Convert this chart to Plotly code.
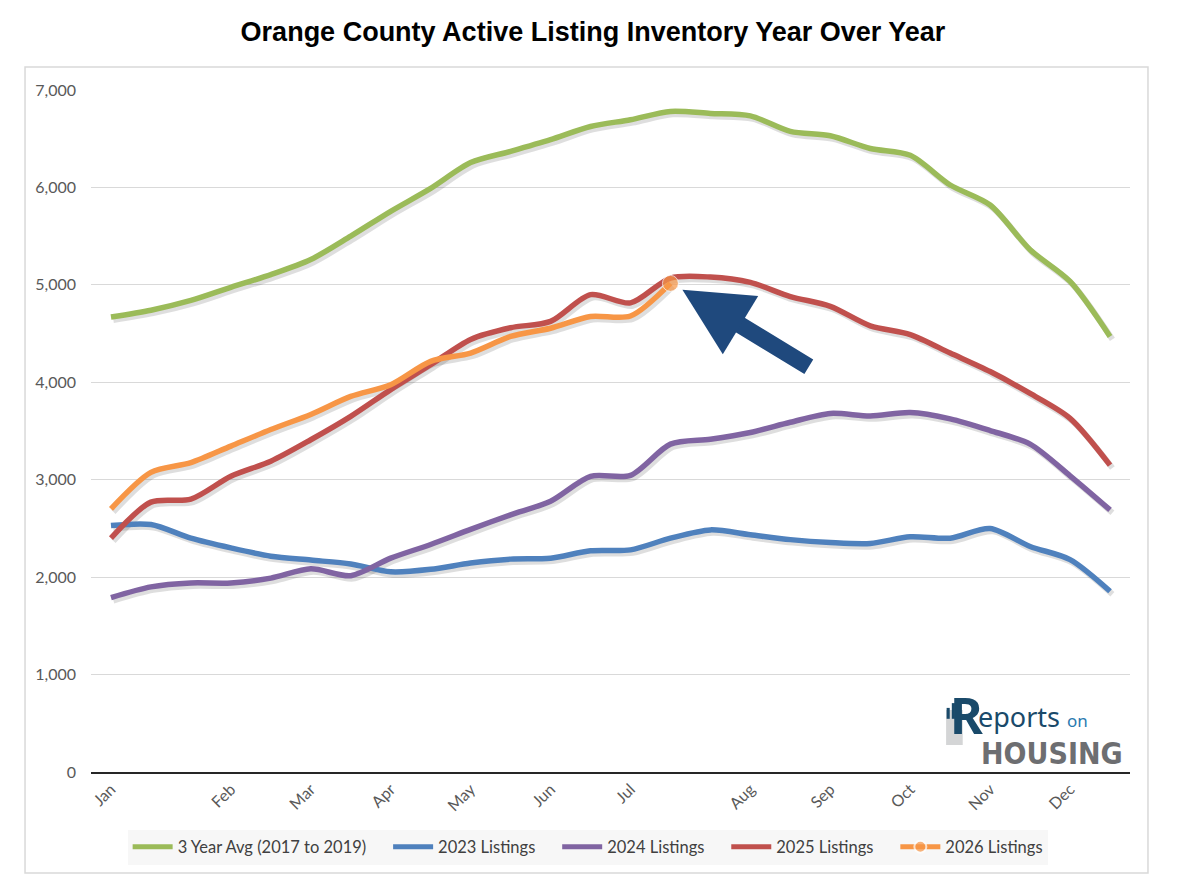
import plotly.graph_objects as go

# semi-monthly points, month names only shown where the month starts
month_names = ["Jan", "Feb", "Mar", "Apr", "May", "Jun", "Jul", "Aug", "Sep", "Oct", "Nov", "Dec"]
month_pos = [0, 3, 5, 7, 9, 11, 13, 16, 18, 20, 22, 24]
n_points = 26

avg_3yr = [4670, 4740, 4840, 4975, 5105, 5260, 5500, 5755, 5990, 6255, 6370, 6490, 6625,
           6695, 6780, 6760, 6735, 6575, 6530, 6400, 6330, 6025, 5820, 5360, 5035, 4470]
listings_2023 = [2530, 2540, 2400, 2300, 2215, 2175, 2135, 2055, 2080, 2145, 2185, 2195, 2270,
                 2280, 2400, 2485, 2435, 2385, 2355, 2345, 2415, 2400, 2500, 2315, 2180, 1855]
listings_2024 = [1790, 1900, 1940, 1940, 1990, 2085, 2015, 2195, 2335, 2490, 2640, 2780, 3035,
                 3045, 3365, 3415, 3485, 3590, 3680, 3655, 3690, 3625, 3505, 3365, 3040, 2690]
listings_2025 = [2400, 2770, 2800, 3035, 3190, 3410, 3650, 3925, 4180, 4440, 4560, 4625, 4900,
                 4815, 5070, 5080, 5025, 4880, 4780, 4580, 4490, 4300, 4110, 3885, 3630, 3150]
listings_2026 = [2700, 3075, 3175, 3345, 3515, 3670, 3855, 3975, 4215, 4300, 4470, 4555, 4675,
                 4680, 5015]

x = list(range(n_points))

series = [
    ("3 Year Avg (2017 to 2019)", avg_3yr, "#9BBB59"),
    ("2023 Listings", listings_2023, "#4F81BD"),
    ("2024 Listings", listings_2024, "#8064A2"),
    ("2025 Listings", listings_2025, "#C0504D"),
    ("2026 Listings", listings_2026, "#F79646"),
]

# soft drop shadow under each line, like the Excel original
shadow_dx, shadow_dy = 0.06, -30
fig = go.Figure()
for name, vals, color in series:
    fig.add_trace(go.Scatter(
        x=[v + shadow_dx for v in x[:len(vals)]], y=[v + shadow_dy for v in vals],
        mode="lines", showlegend=False, hoverinfo="skip",
        line=dict(color="rgba(0,0,0,0.13)", width=6, shape="spline", smoothing=0.8),
    ))

pad = "\u00a0" * 4
for name, vals, color in series:
    is_2026 = name.startswith("2026")
    fig.add_trace(go.Scatter(
        x=x[:len(vals)], y=vals, name=name + ("" if is_2026 else pad),
        mode="lines+markers" if is_2026 else "lines",
        line=dict(color=color, width=5.5, shape="spline", smoothing=0.8),
        # 2026 only has a marker on its latest point
        marker=dict(size=[0] * (len(vals) - 1) + [16], color=color) if is_2026 else None,
    ))

# big arrow pointing at the latest 2026 value
fig.add_annotation(
    x=14.3, y=4950, ax=17.5, ay=4150, xref="x", yref="y", axref="x", ayref="y",
    text="", showarrow=True, arrowhead=2, arrowsize=0.8, arrowwidth=17,
    arrowcolor="#1F497D",
)

# logo
logo_navy = "#1A4A6A"
fig.add_annotation(
    x=0.8245, y=0.083, xref="paper", yref="paper", xanchor="left", yanchor="middle",
    text="<b>R</b>", showarrow=False,
    font=dict(family="Noto Sans", size=50, color=logo_navy),
)
fig.add_annotation(
    x=0.852, y=0.082, xref="paper", yref="paper", xanchor="left", yanchor="middle",
    text="eports", showarrow=False,
    font=dict(family="Noto Sans", size=27, color=logo_navy),
)
fig.add_annotation(
    x=0.937, y=0.076, xref="paper", yref="paper", xanchor="left", yanchor="middle",
    text="on", showarrow=False,
    font=dict(family="Noto Sans", size=17, color="#2A7AB0"),
)
fig.add_annotation(
    x=0.9955, y=0.027, xref="paper", yref="paper", xanchor="right", yanchor="middle",
    text="<b>HOUSING</b>", showarrow=False,
    font=dict(family="DejaVu Sans Condensed, DejaVu Sans", size=30, color="#6D6E71"),
)

fig.update_layout(
    width=1163, height=868,
    margin=dict(l=83, r=41, t=82, b=104),
    paper_bgcolor="white", plot_bgcolor="white",
    title=dict(
        text="<b>Orange County Active Listing Inventory Year Over Year</b>",
        x=(593 - 8) / 1163, xanchor="center", y=1 - 24 / 868, yanchor="middle", yref="container",
        font=dict(family="Liberation Sans", size=27, color="black"),
    ),
    font=dict(family="Lato", color="#595959"),
    legend=dict(
        orientation="h", x=0.478, xanchor="center", y=-0.11, yanchor="middle",
        bgcolor="#F7F7F7", font=dict(size=16.5, color="#404040"),
        itemsizing="constant", itemwidth=40, tracegroupgap=0,
    ),
    shapes=[
        dict(
            type="rect", xref="paper", yref="paper",
            x0=-0.0635, x1=1.0173, y0=-0.148, y1=1.0337,
            line=dict(color="#D9D9D9", width=1.5), fillcolor="rgba(0,0,0,0)", layer="below",
        ),
        dict(
            type="rect", xref="paper", yref="paper",
            x0=0.823, x1=0.839, y0=0.0396, y1=0.0909,
            line=dict(width=0), fillcolor="#D4D5D6", layer="below",
        ),
        dict(
            type="rect", xref="paper", yref="paper",
            x0=0.8235, x1=0.8265, y0=0.078, y1=0.094,
            line=dict(width=0), fillcolor=logo_navy,
        ),
        dict(
            type="rect", xref="paper", yref="paper",
            x0=0.8285, x1=0.8315, y0=0.078, y1=0.101,
            line=dict(width=0), fillcolor=logo_navy,
        ),
    ],
)

fig.update_xaxes(
    range=[-0.5, n_points - 0.5], tickmode="array", tickvals=month_pos, ticktext=month_names,
    tickangle=-45, tickfont=dict(size=16, color="#595959"), showgrid=False,
    showline=True, linecolor="#262626", linewidth=1.5, zeroline=False,
)
fig.update_yaxes(
    range=[0, 7000], dtick=1000, tickformat=",", tickfont=dict(size=16, color="#595959"),
    showgrid=True, gridcolor="#D9D9D9", gridwidth=1, zeroline=False, ticklabelstandoff=14,
)

fig.write_html("out.html")
